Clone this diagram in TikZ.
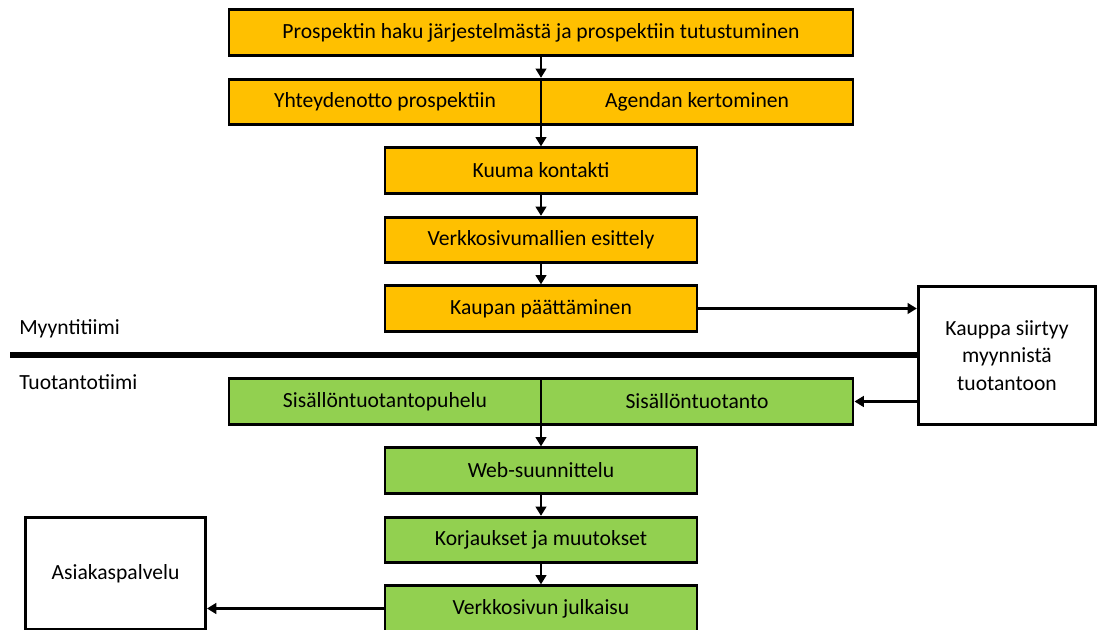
\documentclass[tikz,border=0pt]{standalone}
\usepackage{fontspec}
\setmainfont{Carlito}
\usetikzlibrary{positioning}
\usetikzlibrary{arrows.meta}
\usetikzlibrary{calc}

\definecolor{salesorange}{HTML}{FFC000}
\definecolor{prodgreen}{HTML}{92D050}

\tikzset{
  stage/.style={draw, line width=2.2pt, inner sep=0pt, minimum height=34pt,
    font=\fontsize{16.2}{19}\selectfont},
  sales/.style={stage, fill=salesorange},
  prod/.style={stage, fill=prodgreen},
  plainbox/.style={draw, line width=2.2pt, fill=white, inner sep=0pt, align=center,
    font=\fontsize{16.2}{20.5}\selectfont},
  flow/.style={line width=2.2pt, -{Triangle[length=7pt,width=8pt]}},
  team/.style={anchor=west, inner sep=0pt, font=\fontsize{16.2}{19}\selectfont}
}

\begin{document}
\begin{tikzpicture}[x=0.75pt,y=-0.75pt]
    \useasboundingbox (0,0) rectangle (1097,630);

    % Myyntitiimi
    \node[sales, minimum width=468pt] (haku) at (541,32.5) {Prospektin haku järjestelmästä ja prospektiin tutustuminen};
    \node[sales, minimum width=234pt] (yhteys) at (385,102) {Yhteydenotto prospektiin};
    \node[sales, minimum width=234pt] (agenda) at (697,102) {Agendan kertominen};
    \node[sales, minimum width=234pt] (kuuma) at (541,170.5) {Kuuma kontakti};
    \node[sales, minimum width=234pt] (mallit) at (541,240) {Verkkosivumallien esittely};
    \node[sales, minimum width=234pt] (kauppa) at (541,308.5) {Kaupan päättäminen};

    % siirto
    \node[plainbox, minimum width=133pt, minimum height=103pt] (siirto) at (1007,355.5) {Kauppa siirtyy\\myynnistä\\tuotantoon};

    % Tuotantotiimi
    \node[prod, minimum width=234pt] (puhelu) at (385,401.5) {Sisällöntuotantopuhelu};
    \node[prod, minimum width=234pt] (sisalto) at (697,401.5) {Sisällöntuotanto};
    \node[prod, minimum width=234pt] (web) at (541,470.5) {Web-suunnittelu};
    \node[prod, minimum width=234pt] (korjaus) at (541,540) {Korjaukset ja muutokset};
    \node[prod, minimum width=234pt] (julkaisu) at (541,608.5) {Verkkosivun julkaisu};

    \node[plainbox, minimum width=135pt, minimum height=84pt] (asiakas) at (115.5,573.5) {Asiakaspalvelu};

    % team labels and divider
    \node[team] (myynti) at (19,329) {Myyntitiimi};
    \node[team] (tuotanto) at (19,382) {Tuotantotiimi};
    \coordinate (raja) at (10,355);
    \draw[line width=5pt] (raja) -- (siirto.west |- raja);

    % arrows
    \draw[flow] (haku.south) -- (haku.south |- yhteys.north);
    \draw[flow] (haku.south |- yhteys.south) -- (kuuma.north);
    \draw[flow] (kuuma) -- (mallit);
    \draw[flow] (mallit) -- (kauppa);
    \draw[flow] (kauppa.east) -- (siirto.west |- kauppa.east);
    \draw[flow] (siirto.west |- sisalto.east) -- (sisalto.east);
    \draw[flow] (web.north |- puhelu.south) -- (web.north);
    \draw[flow] (web) -- (korjaus);
    \draw[flow] (korjaus) -- (julkaisu);
    \draw[flow] (julkaisu.west) -- (asiakas.east |- julkaisu.west);
\end{tikzpicture}
\end{document}
